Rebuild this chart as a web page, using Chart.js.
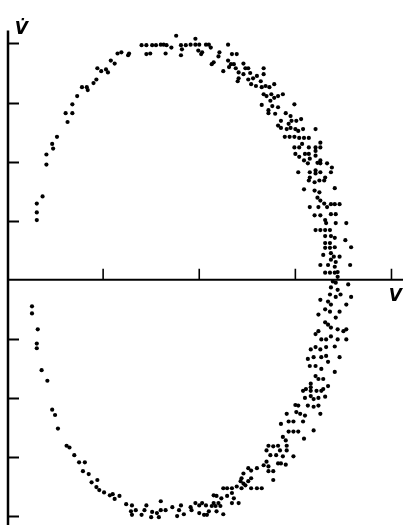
<!DOCTYPE html>
<html>
<head>
<meta charset="utf-8">
<script src="https://cdn.jsdelivr.net/npm/chart.js"></script>
<style>
    html, body { margin: 0; padding: 0; background: #ffffff; }
    #wrap { width: 408px; height: 527px; position: relative; }
</style>
</head>
<body>
<div id="wrap"><canvas id="phaseChart"></canvas></div>
<script>
// Phase portrait data, [V, dV/dt] pairs
const upperLeft = [
    [0.31,1.29],[0.31,1.14],[0.31,1.01],[0.37,1.41],[0.41,1.95],[0.41,2.12],[0.47,2.30],[0.48,2.22],
    [0.52,2.42],[0.63,2.67],[0.61,2.82],[0.68,2.82],[0.68,2.97],[0.73,3.11],[0.78,3.26],[0.84,3.21],
    [0.83,3.26],[0.90,3.33],[0.93,3.39],[0.94,3.58],[0.98,3.53],[1.03,3.56],[1.05,3.51],[1.08,3.71],
    [1.12,3.66],[1.15,3.83],[1.19,3.85],[1.27,3.83],[1.26,3.80],[1.40,3.97],[1.45,3.97],[1.45,3.82],
    [1.49,3.83],[1.51,3.97],[1.55,3.97],[1.60,3.98],[1.63,3.98],[1.66,3.97],[1.71,3.93],[1.65,3.83],
    [1.76,4.13],[1.81,3.97],[1.81,3.80],[1.82,3.90],[1.86,3.97],[1.91,3.98],[1.96,4.08],[1.96,3.98],
    [1.99,3.88],[2.02,3.82],[2.03,3.85],[2.00,3.98]
];

const upperTop = [
    [2.07,3.98],[2.10,3.98],[2.12,3.93],[2.30,3.98],[2.21,3.85],[2.20,3.78],[2.15,3.68],[2.13,3.65],
    [2.30,3.71],[2.34,3.82],[2.39,3.82],[2.33,3.65],[2.36,3.65],[2.38,3.58],[2.31,3.60],[2.25,3.53],
    [2.41,3.51],[2.46,3.66],[2.48,3.58],[2.46,3.48],[2.51,3.58],[2.53,3.50],[2.41,3.41],[2.40,3.36],
    [2.51,3.39],[2.56,3.41],[2.60,3.45],[2.54,3.31],[2.59,3.28],[2.67,3.58],[2.67,3.48],[2.64,3.36],
    [2.65,3.26],[2.69,3.28],[2.73,3.26],[2.78,3.31],[2.67,3.14],[2.70,3.11],[2.75,3.14],[2.78,3.08],
    [2.74,3.03],[2.82,3.11],[2.87,3.14],[2.65,2.96],[2.72,2.87],[2.76,2.94],[2.82,2.92],[2.99,2.97]
];

const upperRight = [
    [2.72,2.82],[2.79,2.81],[2.90,2.82],[2.95,2.77],[2.85,2.69],[2.96,2.69],[3.01,2.69],[3.06,2.72],
    [2.93,2.64],[2.82,2.61],[2.85,2.57],[2.91,2.55],[2.95,2.57],[3.00,2.55],[3.03,2.52],[3.08,2.55],
    [3.21,2.55],[2.89,2.42],[2.94,2.42],[2.99,2.42],[3.04,2.40],[3.09,2.40],[3.14,2.40],[3.07,2.30],
    [3.26,2.32],[2.99,2.24],[3.04,2.24],[3.14,2.24],[3.21,2.24],[3.26,2.24],[3.21,2.18],[3.00,2.13],
    [3.10,2.13],[3.14,2.13],[3.21,2.10],[3.04,2.08],[3.15,2.05],[3.09,2.02],[3.26,2.02],[3.13,1.97],
    [3.23,1.98],[3.26,1.97],[3.33,1.97],[3.38,1.90],[3.21,1.85],[3.03,1.82],[3.15,1.82],[3.21,1.80],
    [3.26,1.82],[3.37,1.82],[3.15,1.73],[3.31,1.73],[3.14,1.68],[3.25,1.68],[3.30,1.68],[3.20,1.65],
    [3.09,1.53],[3.20,1.51],[3.25,1.48],[3.41,1.55],[3.23,1.39],[3.26,1.34],[3.30,1.29],[3.33,1.23],
    [3.37,1.28],[3.41,1.28],[3.46,1.28],[3.15,1.23],[3.24,1.23],[3.20,1.09],[3.26,1.09],[3.37,1.11],
    [3.42,1.11],[3.31,1.01],[3.32,0.96],[3.42,0.96],[3.53,0.96],[3.21,0.84],[3.26,0.84],[3.31,0.84],
    [3.36,0.84],[3.31,0.74],[3.37,0.74],[3.41,0.71],[3.52,0.67],[3.31,0.62],[3.36,0.62],[3.31,0.54],
    [3.36,0.54],[3.41,0.55],[3.58,0.55],[3.29,0.42],[3.37,0.45],[3.40,0.39],[3.46,0.39],[3.37,0.34],
    [3.26,0.25],[3.34,0.25],[3.41,0.22],[3.42,0.30],[3.57,0.25],[3.31,0.12],[3.36,0.12],[3.41,0.12],
    [3.44,0.13]
];

const lowerRight = [
    [3.44,0.05],[3.39,-0.03],[3.42,-0.05],[3.37,-0.13],[3.44,-0.17],[3.55,-0.08],[3.36,-0.25],[3.42,-0.29],
    [3.47,-0.25],[3.58,-0.29],[3.26,-0.34],[3.34,-0.37],[3.37,-0.42],[3.53,-0.42],[3.31,-0.50],[3.24,-0.59],
    [3.36,-0.54],[3.46,-0.54],[3.42,-0.64],[3.31,-0.72],[3.34,-0.76],[3.37,-0.81],[3.44,-0.84],[3.50,-0.87],
    [3.53,-0.84],[3.24,-0.87],[3.21,-0.92],[3.27,-1.01],[3.32,-1.01],[3.37,-0.96],[3.44,-1.01],[3.53,-1.01],
    [3.21,-1.14],[3.26,-1.18],[3.32,-1.14],[3.41,-1.13],[3.16,-1.18],[3.13,-1.34],[3.19,-1.31],[3.27,-1.31],
    [3.32,-1.29],[3.34,-1.39],[3.46,-1.31],[3.15,-1.46],[3.21,-1.46],[3.27,-1.51],[3.41,-1.56],[3.21,-1.63],
    [3.24,-1.68],[3.29,-1.68],[3.16,-1.76],[3.34,-1.80],[3.11,-1.85],[3.16,-1.82],[3.29,-1.85]
];

const lowerMid = [
    [3.08,-1.88],[3.16,-1.88],[3.22,-1.88],[3.27,-1.88],[3.16,-1.97],[3.10,-2.00],[3.19,-2.02],[3.24,-2.00],
    [3.31,-1.98],[3.00,-2.12],[3.03,-2.13],[3.13,-2.13],[3.19,-2.15],[3.24,-2.13],[3.01,-2.24],[3.05,-2.27],
    [3.10,-2.30],[3.26,-2.27],[2.91,-2.27],[2.93,-2.40],[2.98,-2.40],[3.08,-2.40],[2.85,-2.44],[2.93,-2.57],
    [2.98,-2.57],[3.03,-2.57],[3.19,-2.55],[2.87,-2.66],[2.90,-2.72],[2.91,-2.81],[3.09,-2.69],[2.72,-2.81],
    [2.77,-2.82],[2.82,-2.81],[2.84,-2.89],[2.70,-2.89],[2.74,-2.97],[2.80,-2.97],[2.87,-2.99],[2.98,-2.99],
    [2.91,-2.89],[2.85,-3.11],[2.90,-3.13],[2.82,-3.11],[2.70,-3.08],[2.67,-3.14],[2.72,-3.16],[2.60,-3.19],
    [2.54,-3.23],[2.72,-3.24],[2.77,-3.24],[2.51,-3.19],[2.77,-3.39],[2.65,-3.53],[2.60,-3.53],[2.54,-3.53],
    [2.48,-3.48],[2.44,-3.36],[2.46,-3.45],[2.43,-3.41],[2.51,-3.41],[2.54,-3.36],[2.46,-3.28],[2.39,-3.50],
    [2.44,-3.53],[2.34,-3.53],[2.29,-3.53],[2.25,-3.53],[2.34,-3.61],[2.36,-3.70],[2.41,-3.78],[2.34,-3.78],
    [2.29,-3.66],[2.23,-3.70],[2.18,-3.66],[2.15,-3.65],[2.15,-3.78],[2.20,-3.78],[2.22,-3.83],[2.17,-3.83],
    [2.13,-3.83],[2.07,-3.82],[2.03,-3.78],[2.10,-3.92],[2.08,-3.98],[2.25,-3.97],[2.18,-3.92],[2.05,-3.98]
];

const lowerLeft = [
    [0.26,-0.45],[0.26,-0.57],[0.32,-0.84],[0.31,-1.08],[0.31,-1.16],[0.36,-1.53],[0.42,-1.71],[0.47,-2.20],
    [0.50,-2.29],[0.53,-2.52],[0.62,-2.81],[0.65,-2.84],[0.70,-2.97],[0.75,-3.09],[0.81,-3.09],[0.79,-3.24],
    [0.85,-3.29],[0.94,-3.39],[0.88,-3.43],[0.93,-3.51],[0.96,-3.56],[1.01,-3.60],[1.07,-3.65],[1.10,-3.63],
    [1.12,-3.71],[1.17,-3.66],[1.24,-3.80],[1.30,-3.82],[1.34,-3.90],[1.29,-3.92],[1.30,-3.98],[1.40,-3.98],
    [1.45,-3.82],[1.43,-3.90],[1.50,-4.02],[1.51,-3.93],[1.56,-3.95],[1.58,-4.02],[1.60,-3.75],[1.60,-3.90],
    [1.65,-3.90],[1.72,-3.85],[1.77,-4.00],[1.79,-3.90],[1.81,-3.82],[1.84,-3.97],[1.91,-3.85],[1.92,-3.90],
    [1.96,-3.78],[2.00,-3.82],[2.00,-3.95]
];

const xTickValues = [1, 2, 3, 4];
const yTickValues = [4, 3, 2, 1, -1, -2, -3, -4];
const xAxisLabel = 'V';
const yAxisLabel = 'V\u0307';

// Build one scatter series from all segments
function buildPoints() {
    const all = [].concat(upperLeft, upperTop, upperRight, lowerRight, lowerMid, lowerLeft);
    return all.map(function(p) {
        return { x: p[0], y: p[1] };
    });
}

// Axes drawn through the chart's own scales (crossing axes, inward ticks)
const crossAxesPlugin = {
    id: 'crossAxes',
    beforeDatasetsDraw(chart) {
        const ctx = chart.ctx;
        const xs = chart.scales.x;
        const ys = chart.scales.y;
        const x0 = xs.getPixelForValue(0) + 1;
        const y0 = ys.getPixelForValue(0);

        ctx.save();
        ctx.strokeStyle = '#000';
        ctx.lineCap = 'butt';

        // vertical axis
        ctx.lineWidth = 2.5;
        ctx.beginPath();
        ctx.moveTo(x0, ys.getPixelForValue(4.22));
        ctx.lineTo(x0, chart.chartArea.bottom);
        ctx.stroke();

        // horizontal axis
        ctx.lineWidth = 2;
        ctx.beginPath();
        ctx.moveTo(x0, y0);
        ctx.lineTo(xs.getPixelForValue(4.12), y0);
        ctx.stroke();

        // y ticks point right
        ctx.lineWidth = 2;
        yTickValues.forEach(function(v) {
            const py = Math.round(ys.getPixelForValue(v)) + 0.5;
            ctx.beginPath();
            ctx.moveTo(x0, py);
            ctx.lineTo(x0 + 11, py);
            ctx.stroke();
        });

        // x ticks point up
        ctx.lineWidth = 1.6;
        xTickValues.forEach(function(v) {
            const px = xs.getPixelForValue(v);
            ctx.beginPath();
            ctx.moveTo(px, y0);
            ctx.lineTo(px, y0 - 11);
            ctx.stroke();
        });

        // axis letters
        ctx.fillStyle = '#000';
        ctx.font = 'bold italic 17px "DejaVu Sans"';
        ctx.textAlign = 'center';
        ctx.textBaseline = 'alphabetic';
        ctx.fillText(yAxisLabel, xs.getPixelForValue(0.15), ys.getPixelForValue(4.16));
        ctx.fillText(xAxisLabel, xs.getPixelForValue(4.04), ys.getPixelForValue(-0.36));
        ctx.restore();
    }
};

function initializePhaseChart() {
    const ctx = document.getElementById('phaseChart');
    if (!ctx) return;

    new Chart(ctx, {
        type: 'scatter',
        data: {
            datasets: [{
                label: 'phase',
                data: buildPoints(),
                backgroundColor: '#000',
                borderWidth: 0,
                pointRadius: 2.1,
                pointHoverRadius: 2.1
            }]
        },
        options: {
            responsive: true,
            maintainAspectRatio: false,
            animation: false,
            layout: {
                padding: { left: 7, right: 0, top: 0, bottom: 0 }
            },
            plugins: {
                legend: { display: false },
                tooltip: { enabled: false }
            },
            scales: {
                x: { type: 'linear', min: 0, max: 4.15, display: false },
                y: { type: 'linear', min: -4.15, max: 4.7, display: false }
            }
        },
        plugins: [crossAxesPlugin]
    });
}

document.addEventListener('DOMContentLoaded', function() {
    initializePhaseChart();
});
</script>
</body>
</html>
